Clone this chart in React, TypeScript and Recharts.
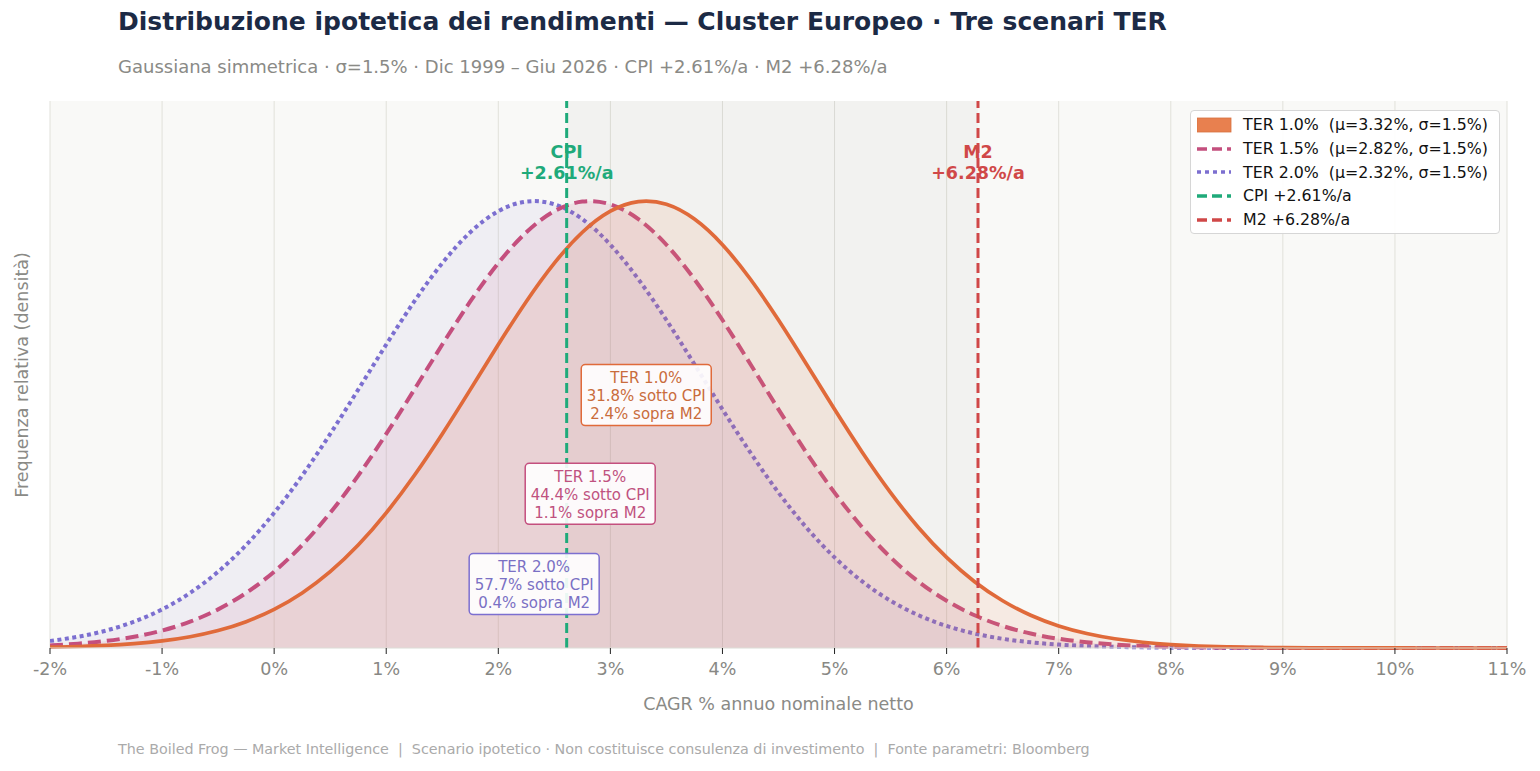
import { Area, ComposedChart, CartesianGrid, ReferenceArea, ReferenceDot, ReferenceLine, XAxis, YAxis } from "recharts"

const FONT = "'DejaVu Sans', sans-serif"

// CAGR % grid
const cagr = [
  -2, -1.75, -1.5, -1.25, -1, -0.75, -0.5, -0.25, 0, 0.25, 0.5, 0.75, 1, 1.25, 1.5, 1.75,
  2, 2.25, 2.5, 2.75, 3, 3.25, 3.5, 3.75, 4, 4.25, 4.5, 4.75, 5, 5.25, 5.5, 5.75,
  6, 6.25, 6.5, 6.75, 7, 7.25, 7.5, 7.75, 8, 8.25, 8.5, 8.75, 9, 9.25, 9.5, 9.75,
  10, 10.25, 10.5, 10.75, 11,
]

// relative density (peak = 1)
const ter10 = [
  0.0019, 0.0033, 0.0057, 0.0097, 0.0158, 0.0252, 0.039, 0.0589, 0.0864, 0.1232, 0.1708, 0.2304, 0.3024, 0.3859, 0.479, 0.5782,
  0.679, 0.7754, 0.8612, 0.9303, 0.9775, 0.9989, 0.9928, 0.9597, 0.9023, 0.8251, 0.7339, 0.6349, 0.5341, 0.437, 0.3478, 0.2692,
  0.2027, 0.1484, 0.1057, 0.0732, 0.0493, 0.0323, 0.0206, 0.0128, 0.0077, 0.0045, 0.0026, 0.0014, 0.0008, 0.0004, 0.0002, 0.0001,
  0.0001, 0, 0, 0, 0,
]
const ter15 = [
  0.0057, 0.0097, 0.0158, 0.0252, 0.039, 0.0589, 0.0864, 0.1232, 0.1708, 0.2304, 0.3024, 0.3859, 0.479, 0.5782, 0.679, 0.7754,
  0.8612, 0.9303, 0.9775, 0.9989, 0.9928, 0.9597, 0.9023, 0.8251, 0.7339, 0.6349, 0.5341, 0.437, 0.3478, 0.2692, 0.2027, 0.1484,
  0.1057, 0.0732, 0.0493, 0.0323, 0.0206, 0.0128, 0.0077, 0.0045, 0.0026, 0.0014, 0.0008, 0.0004, 0.0002, 0.0001, 0.0001, 0,
  0, 0, 0, 0, 0,
]
const ter20 = [
  0.0158, 0.0252, 0.039, 0.0589, 0.0864, 0.1232, 0.1708, 0.2304, 0.3024, 0.3859, 0.479, 0.5782, 0.679, 0.7754, 0.8612, 0.9303,
  0.9775, 0.9989, 0.9928, 0.9597, 0.9023, 0.8251, 0.7339, 0.6349, 0.5341, 0.437, 0.3478, 0.2692, 0.2027, 0.1484, 0.1057, 0.0732,
  0.0493, 0.0323, 0.0206, 0.0128, 0.0077, 0.0045, 0.0026, 0.0014, 0.0008, 0.0004, 0.0002, 0.0001, 0.0001, 0, 0, 0,
  0, 0, 0, 0, 0,
]

const xTicks = [-2, -1, 0, 1, 2, 3, 4, 5, 6, 7, 8, 9, 10, 11]

const cpi = 2.61
const m2 = 6.28

const scenarios = [
  { name: "TER 1.0%", mu: 3.32, below: "31.8%", above: "2.4%", color: "#e06a3a", text: "#c96c3c", boxY: 0.566 },
  { name: "TER 1.5%", mu: 2.82, below: "44.4%", above: "1.1%", color: "#c44f7e", text: "#c0527f", boxY: 0.345 },
  { name: "TER 2.0%", mu: 2.32, below: "57.7%", above: "0.4%", color: "#7c6fd0", text: "#7a70c4", boxY: 0.143 },
]

const rows = cagr.map((x, i) => ({ x, t10: ter10[i], t15: ter15[i], t20: ter20[i] }))

function InfoBox(props: any) {
  const { cx, cy, s } = props
  const w = 130
  const h = 61
  return (
    <g>
      <rect x={cx - w / 2} y={cy - h / 2} width={w} height={h} rx={4} fill="#ffffff" fillOpacity={0.9} stroke={s.color} strokeWidth={1.5} />
      <text x={cx} textAnchor="middle" fill={s.text} fontSize={15} fontFamily={FONT}>
        <tspan x={cx} y={cy - 12}>{s.name}</tspan>
        <tspan x={cx} y={cy + 6}>{`${s.below} sotto CPI`}</tspan>
        <tspan x={cx} y={cy + 24}>{`${s.above} sopra M2`}</tspan>
      </text>
    </g>
  )
}

function LineLabel(props: any) {
  const { viewBox, title, value, color } = props
  const x = viewBox.x
  const y = viewBox.y
  return (
    <text textAnchor="middle" fill={color} fontSize={17.5} fontWeight="bold" fontFamily={FONT}>
      <tspan x={x} y={y + 57}>{title}</tspan>
      <tspan x={x} y={y + 78}>{value}</tspan>
    </text>
  )
}

const legendItems = [
  { label: "TER 1.0%  (μ=3.32%, σ=1.5%)", color: "#e8804f", kind: "patch", dash: "" },
  { label: "TER 1.5%  (μ=2.82%, σ=1.5%)", color: "#c44f7e", kind: "line", dash: "10 5" },
  { label: "TER 2.0%  (μ=2.32%, σ=1.5%)", color: "#7c6fd0", kind: "line", dash: "4 4" },
  { label: "CPI +2.61%/a", color: "#1faa7a", kind: "line", dash: "10 5" },
  { label: "M2 +6.28%/a", color: "#d04848", kind: "line", dash: "10 5" },
]

function LegendBox() {
  return (
    <div
      style={{
        position: "absolute",
        left: 1190,
        top: 110,
        boxSizing: "border-box",
        width: 310,
        height: 124,
        background: "rgba(255,255,255,0.92)",
        border: "1px solid #d6d6d6",
        borderRadius: 4,
        padding: "2px 6px",
        fontFamily: FONT,
        fontSize: 15.8,
        color: "#111",
      }}
    >
      {legendItems.map((it) => (
        <div key={it.label} style={{ display: "flex", alignItems: "center", height: 23.7 }}>
          <svg width={36} height={16} style={{ marginRight: 10 }}>
            {it.kind === "patch" ? (
              <rect x={0} y={1} width={34} height={14} fill={it.color} stroke="#d8703f" strokeWidth={0.8} />
            ) : (
              <line x1={0} y1={8} x2={34} y2={8} stroke={it.color} strokeWidth={3.4} strokeDasharray={it.dash} />
            )}
          </svg>
          <span style={{ whiteSpace: "pre" }}>{it.label}</span>
        </div>
      ))}
    </div>
  )
}

export default function App() {
  return (
    <div style={{ position: "absolute", left: 0, top: 0, width: 1540, height: 771, background: "#ffffff", fontFamily: FONT }}>
      <div style={{ position: "absolute", left: 118, top: 7, fontSize: 25, fontWeight: "bold", color: "#1c2a45", whiteSpace: "nowrap" }}>
        Distribuzione ipotetica dei rendimenti — Cluster Europeo · Tre scenari TER
      </div>
      <div style={{ position: "absolute", left: 118, top: 56, fontSize: 18, color: "#8a8a86", whiteSpace: "nowrap" }}>
        Gaussiana simmetrica · σ=1.5% · Dic 1999 – Giu 2026 · CPI +2.61%/a · M2 +6.28%/a
      </div>
      <ComposedChart width={1540} height={771} data={rows} margin={{ top: 101, right: 33, bottom: 93, left: 50 }}>
        <CartesianGrid horizontal={false} fill="#f9f9f7" stroke="#e1e1da" strokeWidth={1} />
        <ReferenceArea x1={cpi} x2={m2} y1={0} y2={1.224} fill="#000000" fillOpacity={0.028} stroke="none" ifOverflow="hidden" />
        <XAxis
          type="number"
          dataKey="x"
          domain={[-2, 11]}
          ticks={xTicks}
          tickFormatter={(v) => `${v}%`}
          tick={{ fill: "#888884", fontSize: 17.5, fontFamily: FONT }}
          tickLine={{ stroke: "#222" }}
          tickSize={6}
          tickMargin={9}
          axisLine={{ stroke: "#dcdcd6" }}
          height={30}
          allowDataOverflow
        />
        <YAxis type="number" domain={[0, 1.224]} hide />
        <Area type="natural" dataKey="t20" stroke="#7c6fd0" strokeWidth={4} strokeDasharray="4 3.5" fill="#7c6fd0" fillOpacity={0.08} dot={false} activeDot={false} isAnimationActive={false} />
        <Area type="natural" dataKey="t15" stroke="#c44f7e" strokeWidth={4} strokeDasharray="13 6" fill="#c44f7e" fillOpacity={0.1} dot={false} activeDot={false} isAnimationActive={false} />
        <Area type="natural" dataKey="t10" stroke="#e06a3a" strokeWidth={3.7} fill="#e8804f" fillOpacity={0.12} dot={false} activeDot={false} isAnimationActive={false} />
        <ReferenceLine x={cpi} stroke="#1faa7a" strokeWidth={3} strokeDasharray="10 5" label={<LineLabel title="CPI" value="+2.61%/a" color="#1faa7a" />} />
        <ReferenceLine x={m2} stroke="#d04848" strokeWidth={3} strokeDasharray="10 5" label={<LineLabel title="M2" value="+6.28%/a" color="#d04848" />} />
        {scenarios.map((s) => (
          <ReferenceDot key={s.name} x={s.mu} y={s.boxY} r={1} shape={(p: any) => <InfoBox {...p} s={s} />} />
        ))}
      </ComposedChart>
      <LegendBox />
      <div
        style={{
          position: "absolute",
          left: 22,
          top: 375,
          width: 0,
          height: 0,
        }}
      >
        <div style={{ position: "absolute", left: 0, top: 0, transform: "translate(-50%, -50%) rotate(-90deg)", fontSize: 17.5, color: "#8a8a86", whiteSpace: "nowrap" }}>
          Frequenza relativa (densità)
        </div>
      </div>
      <div style={{ position: "absolute", left: 0, width: 1557, top: 694, textAlign: "center", fontSize: 17.5, color: "#8a8a86" }}>
        CAGR % annuo nominale netto
      </div>
      <div style={{ position: "absolute", left: 118, top: 741, fontSize: 14.3, color: "#aaaaaa", whiteSpace: "pre" }}>
        {"The Boiled Frog — Market Intelligence  |  Scenario ipotetico · Non costituisce consulenza di investimento  |  Fonte parametri: Bloomberg"}
      </div>
    </div>
  )
}
